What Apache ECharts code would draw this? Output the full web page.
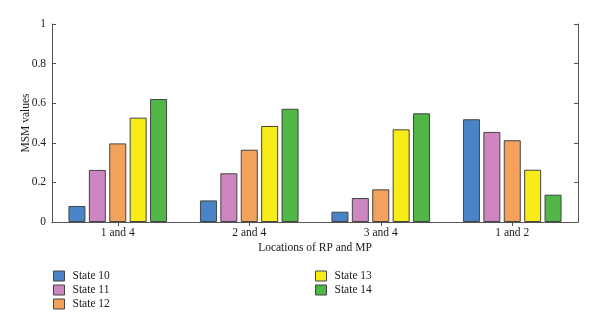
<!DOCTYPE html>
<html><head><meta charset="utf-8">
<script src="https://cdn.jsdelivr.net/npm/echarts@6/dist/echarts.min.js"></script>
<style>html,body{margin:0;padding:0;background:#fff}#c{width:600px;height:330px}</style>
</head><body><div id="c"></div>
<script>
const categories = ['1 and 4', '2 and 4', '3 and 4', '1 and 2'];
const seriesNames = ['State 10', 'State 11', 'State 12', 'State 13', 'State 14'];
const state10 = [0.081, 0.109, 0.052, 0.519];
const state11 = [0.263, 0.246, 0.121, 0.455];
const state12 = [0.397, 0.365, 0.165, 0.413];
const state13 = [0.527, 0.485, 0.468, 0.264];
const state14 = [0.621, 0.572, 0.549, 0.138];
const yTicks = [0, 0.2, 0.4, 0.6, 0.8, 1];
const colors = ['#4a84c6', '#cd86c0', '#f4a15e', '#f7ec17', '#50b747'];

const values = [state10, state11, state12, state13, state14];
const font = 'Liberation Serif';
const txt = '#1a1a1a';
const axisLine = {show: true, lineStyle: {color: '#555', width: 1}};
const legendBase = {orient: 'vertical', top: 265, itemWidth: 11, itemHeight: 10, itemGap: 2, icon: 'rect',
  textStyle: {fontFamily: font, fontSize: 11.5, color: txt, padding: [0, 0, 0, 3]},
  itemStyle: {borderColor: '#444', borderWidth: 1}};
const chart = echarts.init(document.getElementById('c'), null, {renderer: 'canvas'});
chart.setOption({
  animation: false,
  textStyle: {fontFamily: font},
  grid: {left: 52, right: 22, top: 24, bottom: 108, containLabel: false},
  legend: [
    Object.assign({data: seriesNames.slice(0, 3), left: 48}, legendBase),
    Object.assign({data: seriesNames.slice(3), left: 310}, legendBase)
  ],
  xAxis: [
    {type: 'category', data: categories, position: 'bottom', axisLine,
     axisTick: {show: true, inside: true, alignWithLabel: true, length: 4, lineStyle: {color: '#555'}},
     axisLabel: {fontFamily: font, fontSize: 11.5, color: txt, margin: 5},
     name: 'Locations of RP and MP', nameLocation: 'middle', nameGap: 20, nameMoveOverlap: false,
     nameTextStyle: {fontFamily: font, fontSize: 11.5, color: txt}},
    {type: 'category', data: categories, position: 'top', axisLine,
     axisTick: {show: true, inside: true, alignWithLabel: true, length: 4, lineStyle: {color: '#555'}},
     axisLabel: {show: false}}
  ],
  yAxis: [
    {type: 'value', min: 0, max: 1, interval: 0.2, position: 'left', axisLine,
     axisTick: {show: true, inside: true, length: 4, lineStyle: {color: '#555'}},
     splitLine: {show: false},
     axisLabel: {fontFamily: font, fontSize: 11.5, color: txt, margin: 6,
       formatter: v => { const t = yTicks.find(x => Math.abs(x - v) < 1e-9); return t === undefined ? '' : String(t); }},
     name: 'MSM values', nameLocation: 'middle', nameGap: 20, nameRotate: 90, nameMoveOverlap: false,
     nameTextStyle: {fontFamily: font, fontSize: 11.5, color: txt}},
    {type: 'value', min: 0, max: 1, interval: 0.2, position: 'right', axisLine,
     axisTick: {show: true, inside: true, length: 4, lineStyle: {color: '#555'}},
     splitLine: {show: false}, axisLabel: {show: false}}
  ],
  series: seriesNames.map((n, i) => ({
    name: n, type: 'bar', data: values[i], barWidth: 17, barGap: '20%',
    itemStyle: {color: colors[i], borderColor: '#444', borderWidth: 1}
  }))
});
</script></body></html>
